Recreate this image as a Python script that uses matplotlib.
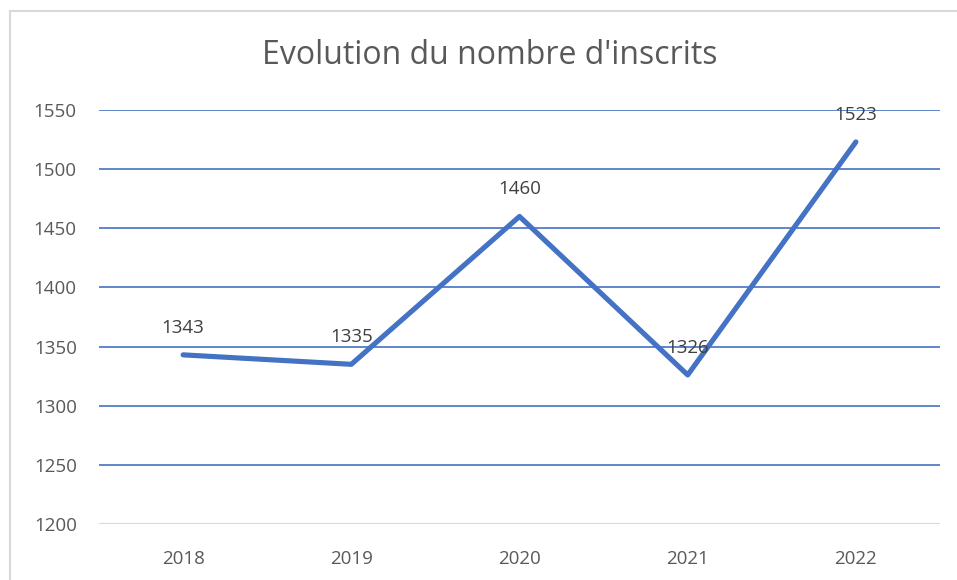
import matplotlib.pyplot as plt
from matplotlib.patches import Rectangle

years = ["2018", "2019", "2020", "2021", "2022"]
inscrits = [1343, 1335, 1460, 1326, 1523]
y_ticks = [1200, 1250, 1300, 1350, 1400, 1450, 1500, 1550]

blue = "#4472C4"
grey_text = "#595959"

plt.rcParams['font.family'] = ['Open Sans', 'DejaVu Sans']

fig = plt.figure(figsize=(9.57, 5.8), dpi=100)
ax = fig.add_axes([99 / 957, 56 / 580, 841 / 957, 414 / 580])

# chart frame (cropped on right/bottom)
fig.patches.append(Rectangle((10 / 957, -0.1), 1.2, (580 - 11) / 580 + 0.1,
                             transform=fig.transFigure, fill=False,
                             edgecolor="#D9D9D9", linewidth=1.5))

x = range(len(years))
ax.plot(x, inscrits, color=blue, linewidth=3.7, solid_capstyle='round',
        solid_joinstyle='round', zorder=3)

for xi, v in zip(x, inscrits):
    ax.annotate(str(v), (xi, v), xytext=(0, 13), textcoords='offset points',
                ha='center', va='bottom', fontsize=13.5, color="#404040", zorder=4)

ax.set_xlim(-0.5, len(years) - 0.5)
ax.set_ylim(1200, 1550)
ax.set_yticks(y_ticks)
ax.set_xticks(list(x))
ax.set_xticklabels(years)

for t in y_ticks[1:]:
    ax.axhline(t, color=blue, linewidth=1.2, zorder=1)
ax.axhline(1200, color="#D9D9D9", linewidth=1.5, zorder=1)

for s in ax.spines.values():
    s.set_visible(False)
ax.tick_params(length=0, labelsize=13.5, labelcolor=grey_text)
ax.tick_params(axis='y', pad=16)
ax.tick_params(axis='x', pad=19)

fig.text(490 / 957, (580 - 55) / 580, "Evolution du nombre d'inscrits",
         ha='center', va='center', fontsize=23, color=grey_text)

fig.savefig("out.png", dpi=100)
